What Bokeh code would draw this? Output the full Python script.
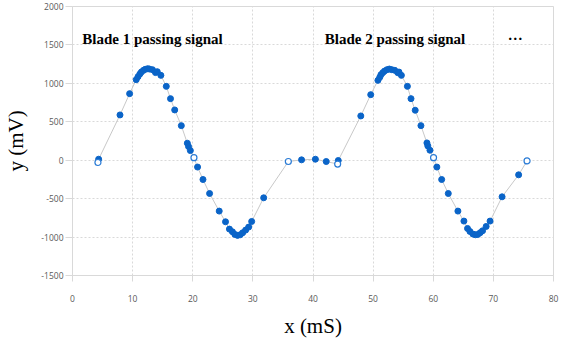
from bokeh.plotting import figure
from bokeh.models import FixedTicker, Range1d, Label
from bokeh.embed import file_html
from bokeh.resources import INLINE

# ---- data ----
filled_x = [4.35, 7.9, 9.5, 10.6, 10.9, 11.2, 11.45, 11.8, 12.1, 12.5, 12.8, 13.3, 13.8, 14.1, 14.7,
            15.6, 16.3, 17.0, 18.1, 19.1, 19.3, 19.6, 20.8, 21.7, 22.8, 24.4, 25.45, 26.1, 26.6,
            27.0, 27.45, 27.9, 28.3, 28.8, 29.3, 29.8, 31.8,
            38.1, 40.4, 42.2, 44.2,
            47.95, 49.6, 50.8, 51.1, 51.3, 51.6, 51.9, 52.3, 52.7, 53.1, 53.6, 54.1, 54.3, 54.7,
            55.7, 56.3, 57.0, 57.95, 58.95, 59.1, 59.45, 60.6, 61.4, 62.5, 64.1, 65.1, 65.7, 66.1,
            66.6, 67.0, 67.4, 67.8, 68.2, 68.8, 69.45, 71.45, 74.2]
filled_y = [13, 589, 866, 1048, 1087, 1121, 1147, 1169, 1182, 1191, 1186, 1178, 1140, 1152, 1104,
            961, 801, 654, 450, 221, 178, 125, -89, -251, -433, -662, -801, -896, -931,
            -965, -978, -970, -944, -909, -870, -797, -489,
            5, 13, -17, -4,
            576, 853, 1039, 1078, 1113, 1139, 1160, 1178, 1186, 1178, 1169, 1139, 1147, 1104,
            961, 801, 650, 450, 225, 186, 130, -89, -251, -433, -662, -792, -888, -927,
            -961, -970, -966, -944, -918, -862, -792, -476, -190]
open_x = [4.23, 20.2, 35.9, 44.1, 60.05, 75.6]
open_y = [-30, 33, -17, -50, 33, -9]

x_ticks = [0, 10, 20, 30, 40, 50, 60, 70, 80]
x_tick_labels = ["0", "10", "20", "30", "40", "50", "60", "70", "80"]
y_ticks = [-1500, -1000, -500, 0, 500, 1000, 1500, 2000]
y_tick_labels = ["-1500", "-1000", "-500", "0", "500", "1000", "1500", "2000"]

annotations = ["Blade 1 passing signal", "Blade 2 passing signal", "\u2026"]
x_title = "x (mS)"
y_title = "y (mV)"

# line through all samples in time order
pts = sorted(zip(filled_x + open_x, filled_y + open_y))
line_x = [a for a, b in pts]
line_y = [b for a, b in pts]

p = figure(width=568, height=341, output_backend="svg", toolbar_location=None,
           x_range=Range1d(0, 80), y_range=Range1d(-1500, 2000),
           min_border_left=72, min_border_right=15, min_border_top=6, min_border_bottom=66)
p.background_fill_color = "white"
p.border_fill_color = "white"
p.outline_line_color = "#d9d9d9"
p.outline_line_width = 1

p.line(line_x, line_y, line_color="#c8c8c8", line_width=1)
p.scatter(filled_x, filled_y, size=6, fill_color="#0a64c8", line_color="#0a64c8")
p.scatter(open_x, open_y, size=6, fill_color="white", line_color="#2a7bd5", line_width=1.2)

for ax in (p.xaxis[0], p.yaxis[0]):
    ax.axis_line_color = "#d9d9d9"
    ax.major_tick_line_color = "#d9d9d9"
    ax.minor_tick_line_color = None
    ax.major_tick_in = 0
    ax.major_label_text_font = "Open Sans"
    ax.major_label_text_font_size = "8.5px"
    ax.major_label_text_color = "#595959"
    ax.axis_label_text_font = "Liberation Serif"
    ax.axis_label_text_font_style = "normal"
    ax.axis_label_text_font_size = "21px"
    ax.axis_label_text_color = "black"

p.xaxis.ticker = FixedTicker(ticks=x_ticks)
p.xaxis.major_label_overrides = dict(zip(x_ticks, x_tick_labels))
p.xaxis.major_tick_out = 6
p.xaxis.major_label_standoff = 13
p.xaxis.axis_label = x_title
p.xaxis.axis_label_standoff = 9

p.yaxis.ticker = FixedTicker(ticks=y_ticks)
p.yaxis.major_label_overrides = dict(zip(y_ticks, y_tick_labels))
p.yaxis.major_tick_out = 7
p.yaxis.major_label_standoff = 2
p.yaxis.axis_label = y_title
p.yaxis.axis_label_standoff = 10

p.xgrid.ticker = FixedTicker(ticks=x_ticks)
p.ygrid.ticker = FixedTicker(ticks=y_ticks)
for g in (p.xgrid[0], p.ygrid[0]):
    g.grid_line_color = "#d9d9d9"
    g.grid_line_dash = "2 2"
    g.grid_line_width = 1

label_pos = [(1.62, 1580), (41.95, 1580), (72.4, 1630)]
for txt, (lx, ly) in zip(annotations, label_pos):
    p.add_layout(Label(x=lx, y=ly, text=txt, text_font="Liberation Serif",
                       text_font_style="bold", text_font_size="15px",
                       text_color="black", text_baseline="alphabetic", text_align="left"))

open("out.html", "w").write(file_html(p, INLINE))
